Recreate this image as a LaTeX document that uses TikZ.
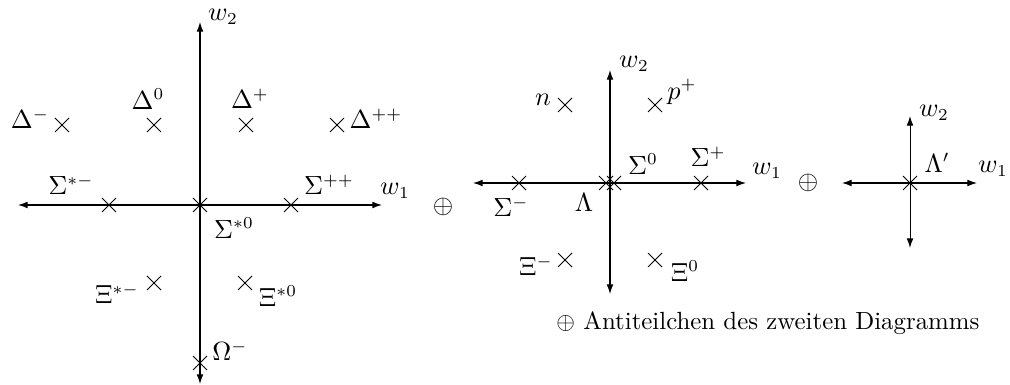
\documentclass[tikz,border=0pt]{standalone}
\usetikzlibrary{arrows.meta}
\begin{document}
\begin{tikzpicture}[x=0.4167pt,y=-0.4167pt,
  axis/.style={{Latex[length=4pt,width=2.8pt]}-{Latex[length=4pt,width=2.8pt]}, line width=0.42pt},
  lbl/.style={inner sep=0pt, font=\fontsize{10.7}{13}\selectfont},
  xmark/.pic={\draw[line width=0.42pt] (-7,-7) -- (7,7) (-7,7) -- (7,-7);}]
\useasboundingbox (0,0) rectangle (1010,385);
% ---------- first diagram (decuplet) ----------
\coordinate (aL) at (18,205); \coordinate (aR) at (382,205);
\coordinate (aT) at (200,22); \coordinate (aB) at (200,384);
\draw[axis] (aL) -- (aR);
\draw[axis] (aB) -- (aT);
\foreach \n/\x/\y in {dm/62/125, dz/154/125, dp/246/125, dpp/337/125,
  sm/109/205, sz/200/205, spp/291/205, xm/154/283, xz/245/283, om/200/363}
  {\coordinate (\n) at (\x,\y); \pic at (\n) {xmark};}
\node[lbl] (lw2a) at (223,17) {$w_2$};
\node[lbl] (lw1a) at (395,191) {$w_1$};
\node[lbl] (ldm) at (30,119) {$\Delta^-$};
\node[lbl] (ldz) at (148,99) {$\Delta^0$};
\node[lbl] (ldp) at (250,99) {$\Delta^+$};
\node[lbl] (ldpp) at (376,119) {$\Delta^{++}$};
\node[lbl] (lsm) at (71,185) {$\Sigma^{*-}$};
\node[lbl] (lspp) at (329,185) {$\Sigma^{++}$};
\node[lbl] (lsz) at (234,228) {$\Sigma^{*0}$};
\node[lbl] (lxm) at (117,294) {$\Xi^{*-}$};
\node[lbl] (lxz) at (278,296) {$\Xi^{*0}$};
\node[lbl] (lom) at (230,351) {$\Omega^-$};
\node[lbl] (op1) at (443,207) {$\oplus$};
% ---------- second diagram (octet) ----------
\coordinate (bL) at (473,183); \coordinate (bR) at (746,183);
\coordinate (bT) at (610,70); \coordinate (bB) at (610,294);
\draw[axis] (bL) -- (bR);
\draw[axis] (bB) -- (bT);
\foreach \n/\x/\y in {nn/565/105, pp/655/105, bsm/519/183, bsp/701/183,
  lam/606/183, bsz/614/183, bxm/565/260, bxz/655/260}
  {\coordinate (\n) at (\x,\y); \pic at (\n) {xmark};}
\node[lbl] (lw2b) at (634,64) {$w_2$};
\node[lbl] (lw1b) at (767,171) {$w_1$};
\node[lbl] (lnn) at (543,100) {$n$};
\node[lbl] (lpp) at (682,92) {$p^+$};
\node[lbl] (lbsz) at (643,164) {$\Sigma^0$};
\node[lbl] (lbsp) at (708,157) {$\Sigma^+$};
\node[lbl] (lbsm) at (511,207) {$\Sigma^-$};
\node[lbl] (llam) at (584,203) {$\Lambda$};
\node[lbl] (lbxm) at (536,266) {$\Xi^-$};
\node[lbl] (lbxz) at (685,271) {$\Xi^0$};
\node[lbl] (op2) at (808,183) {$\oplus$};
% ---------- third diagram (singlet) ----------
\coordinate (cL) at (842,183); \coordinate (cR) at (977,183);
\coordinate (cT) at (910,116); \coordinate (cB) at (910,248);
\draw[axis] (cL) -- (cR);
\draw[axis] (cB) -- (cT);
\coordinate (lamp) at (910,183); \pic at (lamp) {xmark};
\node[lbl] (llamp) at (937,163) {$\Lambda'$};
\node[lbl] (lw2c) at (934,113) {$w_2$};
\node[lbl] (lw1c) at (993,169) {$w_1$};
% ---------- caption ----------
\node[lbl, font=\fontsize{10.35}{13}\selectfont, anchor=west] (cap) at (556,323) {$\oplus$ Antiteilchen des zweiten Diagramms};
\end{tikzpicture}
\end{document}
